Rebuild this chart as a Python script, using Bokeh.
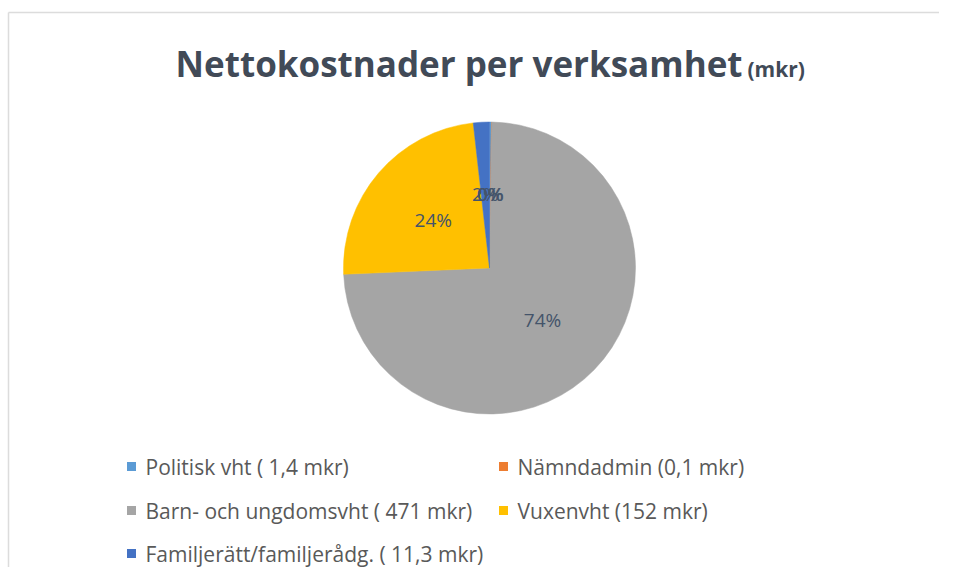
import math
from bokeh.plotting import figure
from bokeh.models import ColumnDataSource
from bokeh.core.properties import value
from bokeh.embed import file_html
from bokeh.resources import INLINE

# ---- data ----
title_main = "Nettokostnader per verksamhet"
title_unit = "(mkr)"
categories = ["Politisk vht", "Nämndadmin", "Barn- och ungdomsvht", "Vuxenvht", "Familjerätt/familjerådg."]
values = [1.4, 0.1, 471, 152, 11.3]
legend_labels = [
    "Politisk vht ( 1,4 mkr)",
    "Nämndadmin (0,1 mkr)",
    "Barn- och ungdomsvht ( 471 mkr)",
    "Vuxenvht (152 mkr)",
    "Familjerätt/familjerådg. ( 11,3 mkr)",
]
colors = ["#5B9BD5", "#ED7D31", "#A5A5A5", "#FFC000", "#4472C4"]

# ---- layout ----
W, H = 939, 567
CX, CY, R = 489, 299.5, 146
LABEL_R = 74
legend_cols_x = [131, 503]
legend_rows_y = [101, 57, 14]
TEXT_COLOR = "#595959"
LABEL_COLOR = "#44546A"
TITLE_COLOR = "#414a57"
FONT = "Open Sans"

total = sum(values)
starts, ends, lx, ly, pct = [], [], [], [], []
cum = 0.0
for v in values:
    a0 = math.pi / 2 - cum / total * 2 * math.pi
    cum += v
    a1 = math.pi / 2 - cum / total * 2 * math.pi
    starts.append(a0)
    ends.append(a1)
    mid = (a0 + a1) / 2
    lx.append(CX + LABEL_R * math.cos(mid))
    ly.append(CY + LABEL_R * math.sin(mid))
    pct.append(f"{round(v / total * 100)}%")

src = ColumnDataSource(dict(cat=categories, val=values, start=starts, end=ends,
                            color=colors, lx=lx, ly=ly, pct=pct))

p = figure(width=W, height=H, x_range=(0, W), y_range=(0, H),
           output_backend="svg", toolbar_location=None, min_border=0)
p.axis.visible = False
p.grid.visible = False
p.outline_line_color = None
p.background_fill_color = "white"
p.border_fill_color = "white"

# chart-area border (only left and top edges are visible in the reference)
p.segment(x0=[8, 8], y0=[H - 12, H - 12], x1=[8, W], y1=[0, H - 12],
          line_color="#dcdcdc", line_width=1.5)

p.wedge(x=CX, y=CY, radius=R, start_angle="start", end_angle="end",
        direction="clock", fill_color="color", line_color="color",
        line_width=0.5, source=src)

p.text(x="lx", y="ly", text="pct", source=src, text_align="center",
       text_baseline="middle", text_font=value(FONT), text_font_size="19px",
       text_color=LABEL_COLOR)

# title
p.text(x=[742], y=[504], text=[title_main], text_align="right",
       text_baseline="alphabetic", text_font=value(FONT), text_font_style="bold",
       text_font_size="35px", text_color=TITLE_COLOR)
p.text(x=[747], y=[499], text=[title_unit], text_align="left",
       text_baseline="alphabetic", text_font=value(FONT), text_font_style="bold",
       text_font_size="21px", text_color=TITLE_COLOR)

# legend (Excel-like grid, 2 columns)
mx, my, tx = [], [], []
for i in range(len(categories)):
    r, c = divmod(i, 2)
    mx.append(legend_cols_x[c])
    my.append(legend_rows_y[r])
    tx.append(legend_cols_x[c] + 14)
lsrc = ColumnDataSource(dict(mx=mx, my=my, tx=tx, lab=legend_labels, color=colors))
p.scatter(x="mx", y="my", marker="square", size=9, fill_color="color",
          line_color=None, source=lsrc)
p.text(x="tx", y="my", text="lab", source=lsrc, text_align="left",
       text_baseline="middle", text_font=value(FONT), text_font_size="21px",
       text_color=TEXT_COLOR)

open("out.html", "w").write(file_html(p, INLINE))
